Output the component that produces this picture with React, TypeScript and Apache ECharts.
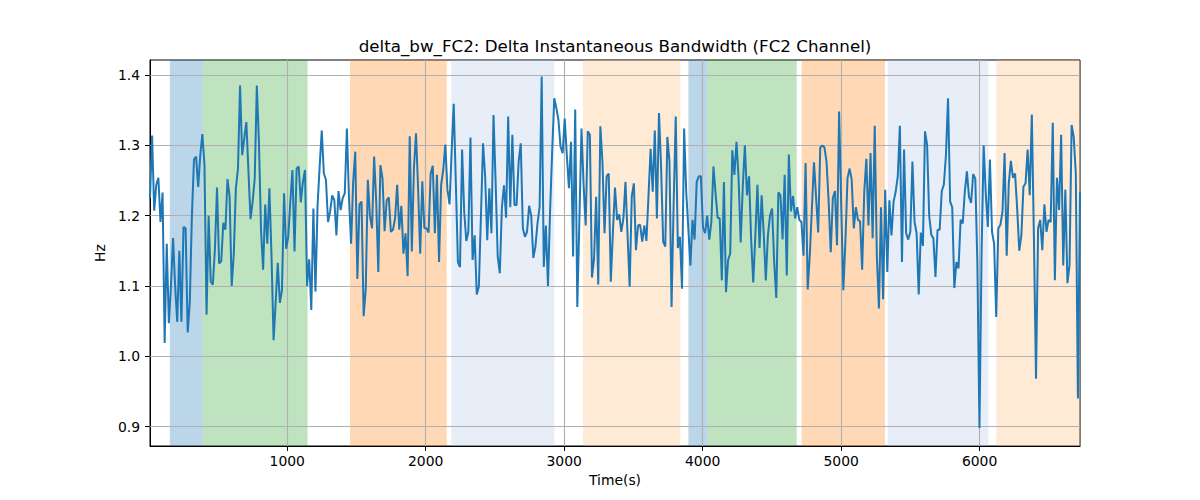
import React, { useEffect, useRef } from 'react';
import * as echarts from 'echarts';

// time range of the recording (s)
const T_START = 9;
const T_END = 6725;

// delta instantaneous bandwidth, evenly sampled over [T_START, T_END]
const bandwidthA = [
    1.225, 1.314, 1.207, 1.244, 1.254, 1.191, 1.233, 1.019, 1.16, 1.047, 1.1, 1.168, 1.1, 1.049, 1.15, 1.049,
    1.184, 1.182, 1.034, 1.077, 1.2, 1.28, 1.284, 1.241, 1.286, 1.316, 1.272, 1.059, 1.2, 1.106, 1.102, 1.153,
    1.24, 1.132, 1.135, 1.19, 1.18, 1.252, 1.227, 1.1, 1.145, 1.239, 1.267, 1.385, 1.286, 1.31, 1.333, 1.263,
    1.195, 1.22, 1.253, 1.385, 1.305, 1.18, 1.123, 1.216, 1.16, 1.239, 1.144, 1.023, 1.077, 1.133, 1.076, 1.094,
    1.232, 1.153, 1.17, 1.22, 1.265, 1.149, 1.267, 1.27, 1.219, 1.248, 1.265, 1.1, 1.138, 1.066, 1.21, 1.092,
    1.215, 1.27, 1.321, 1.26, 1.251, 1.191, 1.206, 1.229, 1.222, 1.172, 1.235, 1.208, 1.225, 1.232, 1.324, 1.225,
    1.16, 1.248, 1.291, 1.11, 1.216, 1.22, 1.057, 1.096, 1.251, 1.2, 1.182, 1.284,
];
const bandwidthB = [
    1.22, 1.12, 1.272, 1.253, 1.178, 1.222, 1.226, 1.177, 1.18, 1.196, 1.244, 1.18, 1.214, 1.146, 1.175, 1.114,
    1.313, 1.149, 1.267, 1.317, 1.239, 1.146, 1.249, 1.182, 1.182, 1.176, 1.26, 1.271, 1.175, 1.258, 1.134, 1.244,
    1.265, 1.301, 1.237, 1.216, 1.291, 1.359, 1.248, 1.134, 1.127, 1.294, 1.206, 1.164, 1.177, 1.311, 1.137, 1.172,
    1.088, 1.099, 1.2, 1.303, 1.256, 1.165, 1.239, 1.175, 1.343, 1.248, 1.142, 1.118, 1.212, 1.243, 1.197, 1.341,
    1.212, 1.315, 1.215, 1.215, 1.277, 1.303, 1.182, 1.17, 1.177, 1.214, 1.2, 1.14, 1.156, 1.189, 1.212, 1.398,
    1.127, 1.186, 1.1, 1.206, 1.291, 1.367, 1.353, 1.336, 1.298, 1.289, 1.338, 1.286, 1.239, 1.305, 1.142, 1.351,
    1.07, 1.194, 1.324, 1.244, 1.186, 1.32, 1.315, 1.112, 1.139, 1.227, 1.102, 1.327, 1.277, 1.175, 1.256,
];
const bandwidthC = [
    1.26, 1.106, 1.177, 1.24, 1.194, 1.202, 1.177, 1.196, 1.248, 1.172, 1.099, 1.227, 1.246, 1.151, 1.186, 1.187,
    1.163, 1.186, 1.164, 1.229, 1.295, 1.234, 1.321, 1.196, 1.346, 1.27, 1.163, 1.156, 1.312, 1.277, 1.07, 1.218,
    1.341, 1.154, 1.17, 1.096, 1.324, 1.234, 1.182, 1.129, 1.194, 1.166, 1.248, 1.256, 1.256, 1.183, 1.175, 1.2,
    1.166, 1.191, 1.27, 1.232, 1.197, 1.196, 1.108, 1.248, 1.091, 1.137, 1.146, 1.293, 1.258, 1.305, 1.253, 1.162,
    1.241, 1.3, 1.229, 1.256, 1.166, 1.105, 1.172, 1.244, 1.154, 1.229, 1.175, 1.108, 1.172, 1.2, 1.21, 1.134,
    1.083, 1.233, 1.229, 1.166, 1.258, 1.115, 1.287, 1.206, 1.228, 1.196, 1.212, 1.194, 1.191, 1.143, 1.275, 1.095,
    1.144, 1.21, 1.276, 1.226, 1.176, 1.297, 1.3, 1.297, 1.276, 1.22, 1.148, 1.225, 1.235, 1.158,
];
const bandwidthD = [
    1.348, 1.215, 1.094, 1.163, 1.253, 1.267, 1.251, 1.182, 1.212, 1.194, 1.192, 1.123, 1.234, 1.281, 1.186, 1.289,
    1.168, 1.328, 1.144, 1.068, 1.212, 1.081, 1.237, 1.12, 1.222, 1.172, 1.22, 1.234, 1.256, 1.328, 1.134, 1.294,
    1.175, 1.166, 1.177, 1.277, 1.191, 1.175, 1.088, 1.176, 1.157, 1.32, 1.301, 1.2, 1.173, 1.168, 1.113, 1.18,
    1.18, 1.235, 1.244, 1.286, 1.367, 1.22, 1.212, 1.097, 1.134, 1.125, 1.194, 1.189, 1.234, 1.263, 1.227, 1.218,
    1.259, 1.253, 1.132, 0.898, 1.144, 1.3, 1.232, 1.184, 1.28, 1.177, 1.16, 1.056, 1.182, 1.187, 1.206, 1.289,
    1.143, 1.246, 1.278, 1.254, 1.26, 1.21, 1.15, 1.172, 1.241, 1.246, 1.294, 1.229, 1.344, 1.168, 0.968, 1.182,
    1.194, 1.151, 1.216, 1.177, 1.194, 1.191, 1.332, 1.108, 1.254, 1.208, 1.315, 1.129, 1.237, 1.104, 1.13, 1.329,
    1.312, 1.26, 0.94, 1.234,
];

const xTicks = [1000, 2000, 3000, 4000, 5000, 6000];
const yTicks = [0.9, 1.0, 1.1, 1.2, 1.3, 1.4];

// shaded phases: [start, end, phase]
const spans: [number, number, string][] = [
    [152, 390, 'p1'],
    [390, 1147, 'p2'],
    [1453, 2152, 'p3'],
    [2184, 2929, 'p4'],
    [3136, 3839, 'p5'],
    [3897, 4036, 'p1'],
    [4036, 4679, 'p2'],
    [4715, 5317, 'p3'],
    [5336, 6064, 'p4'],
    [6121, 6725, 'p5'],
];

const phaseColors: Record<string, string> = {
    p1: 'rgba(31,119,180,0.3)',
    p2: 'rgba(44,160,44,0.3)',
    p3: 'rgba(255,127,14,0.3)',
    p4: 'rgba(174,199,232,0.3)',
    p5: 'rgba(255,187,120,0.3)',
};

const FONT = 'DejaVu Sans';

const App: React.FC = () => {
    const chartRef = useRef<HTMLDivElement>(null);

    useEffect(() => {
        document.body.style.margin = '0';
        if (!chartRef.current) return;
        const chart = echarts.init(chartRef.current, undefined, { renderer: 'svg' });

        const values = [...bandwidthA, ...bandwidthB, ...bandwidthC, ...bandwidthD];
        const step = (T_END - T_START) / (values.length - 1);
        const points = values.map((v, i) => [T_START + i * step, v]);

        const tickLabel = { color: '#000', fontSize: 13.9, fontFamily: FONT };

        chart.setOption({
            animation: false,
            graphic: [
                {
                    type: 'text',
                    x: 615,
                    y: 46,
                    style: {
                        text: 'delta_bw_FC2: Delta Instantaneous Bandwidth (FC2 Channel)',
                        textAlign: 'center',
                        textVerticalAlign: 'middle',
                        fontSize: 16.7,
                        fontFamily: FONT,
                        fill: '#000',
                    },
                },
            ],
            grid: {
                left: 150,
                right: 120,
                top: 60,
                bottom: 54,
                show: true,
                borderColor: '#000',
                borderWidth: 1,
            },
            xAxis: {
                type: 'value',
                min: T_START,
                max: T_END,
                name: 'Time(s)',
                nameLocation: 'middle',
                nameGap: 27,
                nameTextStyle: tickLabel,
                axisLine: { show: true, lineStyle: { color: '#000', width: 1 } },
                axisTick: { show: true, customValues: xTicks, length: 5, lineStyle: { color: '#000' } },
                axisLabel: {
                    ...tickLabel,
                    customValues: xTicks,
                    margin: 8,
                    formatter: (v: number) => String(v),
                },
                splitLine: { show: false },
            },
            yAxis: {
                type: 'value',
                min: 0.8724,
                max: 1.4214,
                name: 'Hz',
                nameLocation: 'middle',
                nameGap: 34,
                nameTextStyle: tickLabel,
                axisLine: { show: true, lineStyle: { color: '#000', width: 1 } },
                axisTick: { show: true, customValues: yTicks, length: 5, lineStyle: { color: '#000' } },
                axisLabel: {
                    ...tickLabel,
                    customValues: yTicks,
                    margin: 10,
                    formatter: (v: number) => v.toFixed(1),
                },
                splitLine: { show: false },
            },
            series: [
                {
                    type: 'line',
                    data: points,
                    showSymbol: false,
                    lineStyle: { color: '#1f77b4', width: 2 },
                    itemStyle: { color: '#1f77b4' },
                    z: 3,
                    markArea: {
                        silent: true,
                        z: 1,
                        data: spans.map(([a, b, p]) => [
                            { xAxis: a, itemStyle: { color: phaseColors[p] } },
                            { xAxis: b },
                        ]),
                    },
                    markLine: {
                        silent: true,
                        z: 2,
                        symbol: 'none',
                        label: { show: false },
                        lineStyle: { color: '#b0b0b0', width: 1.1, type: 'solid' },
                        data: [
                            ...xTicks.map((v) => ({ xAxis: v })),
                            ...yTicks.map((v) => ({ yAxis: v })),
                        ],
                    },
                },
            ],
        });

        return () => {
            chart.dispose();
        };
    }, []);

    return <div ref={chartRef} style={{ width: '1200px', height: '500px' }} />;
};

export default App;
